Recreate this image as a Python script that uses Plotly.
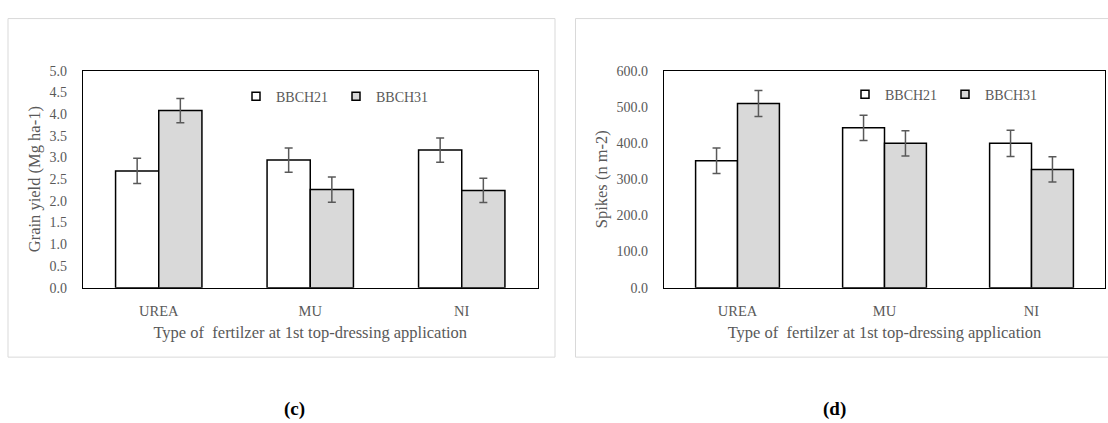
import plotly.graph_objects as go

categories = ["UREA", "MU", "NI"]
series_names = ["BBCH21", "BBCH31"]

# Panel (c): grain yield (Mg ha-1)
yield_bbch21 = [2.69, 2.94, 3.17]
yield_bbch21_err = [0.29, 0.28, 0.28]
yield_bbch31 = [4.08, 2.26, 2.24]
yield_bbch31_err = [0.28, 0.29, 0.28]

# Panel (d): spikes (n m-2)
spikes_bbch21 = [351, 442, 399]
spikes_bbch21_err = [35, 35, 36]
spikes_bbch31 = [509, 399, 327]
spikes_bbch31_err = [36, 35, 35]

yield_ticks = [0, 0.5, 1.0, 1.5, 2.0, 2.5, 3.0, 3.5, 4.0, 4.5, 5.0]
spikes_ticks = [0, 100, 200, 300, 400, 500, 600]

W, H = 1108, 423
FONT = "Liberation Serif"
GREY_TXT = "#595959"
FILLS = ["#ffffff", "#d9d9d9"]

def px(x):
    return x / W

def py(y):
    return 1 - y / H

fig = go.Figure()

panels = [
    dict(xa="x", ya="y", legend="legend",
         vals=[yield_bbch21, yield_bbch31], errs=[yield_bbch21_err, yield_bbch31_err]),
    dict(xa="x2", ya="y2", legend="legend2",
         vals=[spikes_bbch21, spikes_bbch31], errs=[spikes_bbch21_err, spikes_bbch31_err]),
]

for p in panels:
    for i, name in enumerate(series_names):
        fig.add_trace(go.Bar(
            x=categories, y=p["vals"][i], name=name, xaxis=p["xa"], yaxis=p["ya"],
            marker=dict(color=FILLS[i], line=dict(color="black", width=1.5)),
            error_y=dict(type="data", array=p["errs"][i], color="#595959",
                         thickness=1.5, width=4),
            showlegend=False, hoverinfo="skip",
        ))
    for i, name in enumerate(series_names):
        fig.add_trace(go.Scatter(
            x=[None], y=[None], name=name, mode="markers", xaxis=p["xa"], yaxis=p["ya"],
            marker=dict(symbol="square", size=8, color=FILLS[i],
                        line=dict(color="black", width=1.5)),
            legend=p["legend"], showlegend=True,
        ))

axis_common = dict(showline=True, mirror=True, linecolor="black", linewidth=1.3,
                   showgrid=False, zeroline=False, ticks="")

xtick_font = dict(family=FONT, size=14.5, color=GREY_TXT)
ytick_font = dict(family=FONT, size=14, color=GREY_TXT)
title_font = dict(family=FONT, size=16.5, color=GREY_TXT)
legend_font = dict(family=FONT, size=14, color=GREY_TXT)

y_dom = [py(291), py(66)]
border = dict(color="#d9d9d9", width=1)

fig.update_layout(
    width=W, height=H, margin=dict(l=0, r=0, t=0, b=0),
    paper_bgcolor="white", plot_bgcolor="white",
    barmode="group", bargap=0.43, bargroupgap=0,
    font=dict(family=FONT, color=GREY_TXT),
    xaxis=dict(domain=[px(83), px(537.5)], anchor="y", type="category",
               ticklabelstandoff=10, tickfont=xtick_font,
               title=dict(text="Type of  fertilzer at 1st top-dressing application",
                          font=title_font, standoff=8),
               **axis_common),
    yaxis=dict(domain=y_dom, anchor="x", range=[0, 5], tickvals=yield_ticks,
               tickformat=".1f", ticklabelstandoff=12, tickfont=ytick_font,
               title=dict(text="Grain yield (Mg ha-1)", font=title_font, standoff=4),
               **axis_common),
    xaxis2=dict(domain=[px(664), px(1105)], anchor="y2", type="category",
                ticklabelstandoff=10, tickfont=xtick_font,
                title=dict(text="Type of  fertilzer at 1st top-dressing application",
                           font=title_font, standoff=8),
                **axis_common),
    yaxis2=dict(domain=y_dom, anchor="x2", range=[0, 600], tickvals=spikes_ticks,
                tickformat=".1f", ticklabelstandoff=12, tickfont=ytick_font,
                title=dict(text="Spikes (n m-2)", font=title_font, standoff=4),
                **axis_common),
    legend=dict(orientation="h", x=px(236), y=py(93), xanchor="left", yanchor="middle",
                bgcolor="rgba(0,0,0,0)", entrywidth=55, entrywidthmode="pixels",
                font=legend_font),
    legend2=dict(orientation="h", x=px(845), y=py(91), xanchor="left", yanchor="middle",
                 bgcolor="rgba(0,0,0,0)", entrywidth=55, entrywidthmode="pixels",
                 font=legend_font),
    shapes=[
        dict(type="rect", xref="paper", yref="paper", x0=px(8), x1=px(555),
             y0=py(363), y1=py(12), line=border, layer="below"),
        dict(type="line", xref="paper", yref="paper", x0=px(575.5), x1=px(575.5),
             y0=py(363), y1=py(12), line=border, layer="below"),
        dict(type="line", xref="paper", yref="paper", x0=px(575.5), x1=1,
             y0=py(12), y1=py(12), line=border, layer="below"),
        dict(type="line", xref="paper", yref="paper", x0=px(575.5), x1=1,
             y0=py(363), y1=py(363), line=border, layer="below"),
    ],
    annotations=[
        dict(text="<b>(c)</b>", xref="paper", yref="paper", x=px(282), y=py(417),
             yanchor="middle", showarrow=False,
             font=dict(family=FONT, size=19, color="black")),
        dict(text="<b>(d)</b>", xref="paper", yref="paper", x=px(848), y=py(417),
             yanchor="middle", showarrow=False,
             font=dict(family=FONT, size=19, color="black")),
    ],
)

fig.write_html(
    "out.html",
    config={"displayModeBar": False},
    post_script="document.body.style.margin='0';document.body.style.overflow='hidden';",
)
